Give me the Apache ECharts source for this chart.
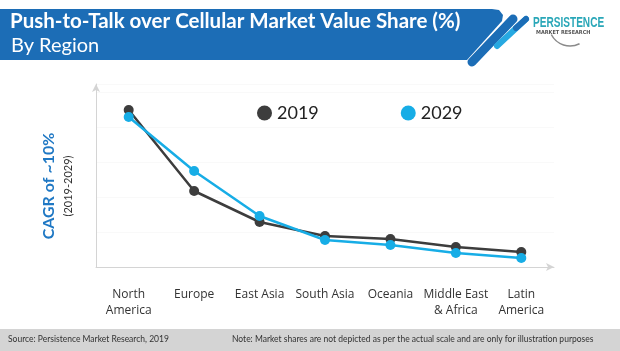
<!DOCTYPE html>
<html>
<head>
<meta charset="utf-8">
<script src="https://cdn.jsdelivr.net/npm/echarts@6/dist/echarts.min.js"></script>
<style>
  html, body { margin: 0; padding: 0; background: #fff; }
  #chart { width: 620px; height: 351px; }
</style>
</head>
<body>
<div id="chart"></div>
<script>
// regions along the x axis
const regions = ['North\nAmerica', 'Europe', 'East Asia', 'South Asia', 'Oceania', 'Middle East\n& Africa', 'Latin\nAmerica'];
// value share (relative scale, no ticks shown)
const share2019 = [157, 76, 45, 31, 28, 20, 15];
const share2029 = [150, 96, 51, 27, 22, 14, 9];
const seriesNames = ['2019', '2029'];

const chart = echarts.init(document.getElementById('chart'));

const option = {
    animation: false,
    textStyle: { fontFamily: 'Lato' },
    grid: { left: 96, right: 66, top: 84, bottom: 84, containLabel: false },
    legend: {
        data: seriesNames,
        left: 252,
        top: 99,
        icon: 'circle',
        itemWidth: 15,
        itemHeight: 15,
        itemGap: 82,
        textStyle: { fontSize: 18, color: '#222', fontFamily: 'Lato' }
    },
    xAxis: {
        type: 'category',
        data: regions,
        boundaryGap: true,
        axisLine: { lineStyle: { color: '#d4d4d4', width: 1 }, symbol: ['none', 'arrow'], symbolSize: [6, 8] },
        axisTick: { show: false },
        axisLabel: { color: '#333', fontSize: 12, margin: 20, lineHeight: 16, interval: 0, fontFamily: 'Open Sans' },
        splitLine: { show: false }
    },
    yAxis: {
        type: 'value',
        min: 0,
        max: 183,
        interval: 35,
        axisLine: { show: true, lineStyle: { color: '#d4d4d4', width: 1 }, symbol: ['none', 'arrow'], symbolSize: [6, 8] },
        axisTick: { show: false },
        axisLabel: { show: false },
        splitLine: { show: true, lineStyle: { color: '#f9f9f9', width: 1 } }
    },
    series: [
        {
            name: seriesNames[0],
            type: 'line',
            data: share2019,
            symbol: 'circle',
            symbolSize: 10,
            z: 3,
            lineStyle: { color: '#3d3d3d', width: 2.5 },
            itemStyle: { color: '#3d3d3d' }
        },
        {
            name: seriesNames[1],
            type: 'line',
            data: share2029,
            symbol: 'circle',
            symbolSize: 10,
            z: 4,
            lineStyle: { color: '#17ade6', width: 2.5 },
            itemStyle: { color: '#17ade6' }
        }
    ],
    graphic: [
        // title banner
        {
            type: 'polygon',
            shape: { points: [[0, 9], [492, 9], [499, 10], [503, 15], [502, 21], [467, 60], [0, 60]] },
            style: { fill: '#1c6db6' }
        },
        {
            type: 'line',
            shape: { x1: 513, y1: 19, x2: 472, y2: 62 },
            style: { stroke: '#1c6db6', lineWidth: 9, lineCap: 'round' }
        },
        {
            type: 'line',
            shape: { x1: 526, y1: 19, x2: 497, y2: 46 },
            style: { stroke: '#27a9e1', lineWidth: 6, lineCap: 'round' }
        },
        {
            type: 'line',
            shape: { x1: 526, y1: 19, x2: 516, y2: 28 },
            style: { stroke: '#1c6db6', lineWidth: 6, lineCap: 'round' }
        },
        {
            type: 'text',
            left: 10,
            top: 11,
            style: { text: 'Push-to-Talk over Cellular Market Value Share (%)', fill: '#fff', fontSize: 20.5, fontWeight: 'bold', fontFamily: 'Lato' }
        },
        {
            type: 'text',
            left: 11,
            top: 36,
            style: { text: 'By Region', fill: '#fff', fontSize: 20, fontFamily: 'Lato' }
        },
        // logo
        {
            type: 'text',
            x: 533,
            y: 16,
            scaleX: 0.72,
            style: { text: 'PERSISTENCE', fill: '#2aa7b8', fontSize: 14, fontWeight: 'bold', fontFamily: 'Liberation Sans' }
        },
        {
            type: 'text',
            x: 536,
            y: 30,
            scaleX: 0.9,
            style: { text: 'MARKET RESEARCH', fill: '#555', fontSize: 5.5, fontWeight: 'bold', fontFamily: 'DejaVu Sans' }
        },
        {
            type: 'arc',
            shape: { cx: 570, cy: 25, r: 21, startAngle: Math.PI * 0.35, endAngle: Math.PI * 0.85 },
            style: { stroke: '#8a8a8a', lineWidth: 1.5, fill: null }
        },
        // rotated axis title
        {
            type: 'text',
            x: 49,
            y: 186,
            rotation: Math.PI / 2,
            style: { text: 'CAGR of ~10%', fill: '#1f78c4', fontSize: 16, fontWeight: 'bold', fontFamily: 'Lato', align: 'center', verticalAlign: 'middle' }
        },
        {
            type: 'text',
            x: 68,
            y: 186,
            rotation: Math.PI / 2,
            style: { text: '(2019-2029)', fill: '#333', fontSize: 11, fontFamily: 'Lato', align: 'center', verticalAlign: 'middle' }
        },
        // footer
        {
            type: 'rect',
            shape: { x: 0, y: 329, width: 620, height: 22 },
            style: { fill: '#d4d4d4' }
        },
        {
            type: 'text',
            left: 8,
            top: 335,
            style: { text: 'Source: Persistence Market Research, 2019', fill: '#333', fontSize: 8.5, fontFamily: 'Lato' }
        },
        {
            type: 'text',
            left: 232,
            top: 335,
            style: { text: 'Note: Market shares are not depicted as per the actual scale and are only for illustration purposes', fill: '#333', fontSize: 8.5, fontFamily: 'Lato' }
        }
    ]
};

chart.setOption(option);
</script>
</body>
</html>
